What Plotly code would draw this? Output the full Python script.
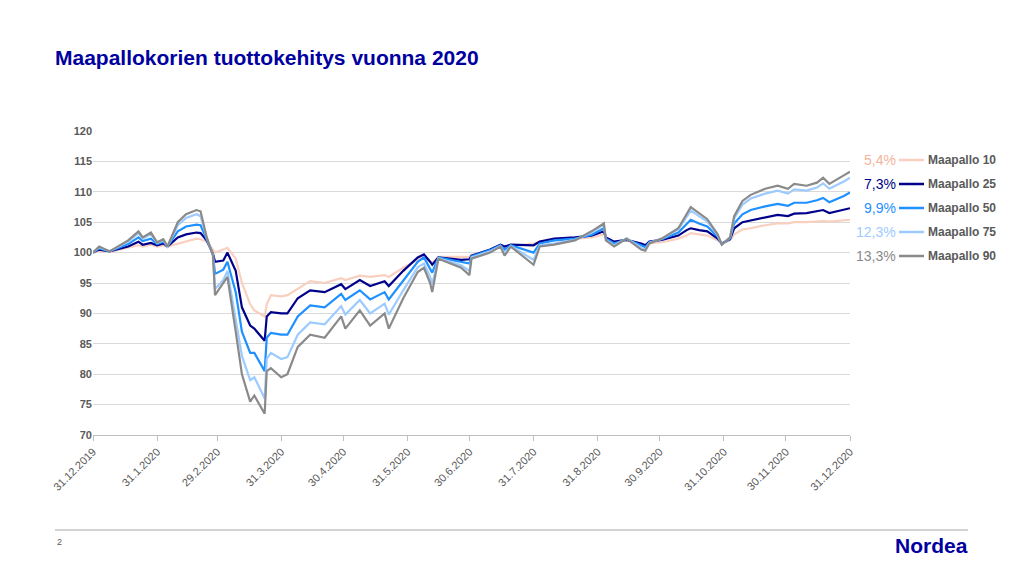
import plotly.graph_objects as go

dates = ["2019-12-31","2020-01-03","2020-01-08","2020-01-17","2020-01-22","2020-01-24","2020-01-28","2020-01-31",
"2020-02-03","2020-02-05","2020-02-10","2020-02-14","2020-02-19","2020-02-21","2020-02-24","2020-02-27","2020-02-28",
"2020-03-03","2020-03-05","2020-03-09","2020-03-12","2020-03-16","2020-03-18","2020-03-23","2020-03-24","2020-03-26",
"2020-03-31","2020-04-03","2020-04-08","2020-04-14","2020-04-21","2020-04-29","2020-05-01","2020-05-08","2020-05-13",
"2020-05-20","2020-05-22","2020-05-29","2020-06-05","2020-06-08","2020-06-11","2020-06-12","2020-06-15","2020-06-26",
"2020-06-30","2020-07-01","2020-07-10","2020-07-15","2020-07-17","2020-07-20","2020-07-31","2020-08-03","2020-08-10",
"2020-08-20","2020-08-28","2020-09-03","2020-09-04","2020-09-08","2020-09-14","2020-09-21","2020-09-23","2020-09-25",
"2020-10-01","2020-10-09","2020-10-13","2020-10-15","2020-10-19","2020-10-23","2020-10-28","2020-10-30","2020-11-03",
"2020-11-05","2020-11-09","2020-11-13","2020-11-20","2020-11-26","2020-12-01","2020-12-04","2020-12-10","2020-12-15",
"2020-12-18","2020-12-21","2020-12-28","2020-12-31"]

m10 = [100,100.3,100.1,100.8,101.2,101,101.3,101,101.2,101,101.5,101.9,102.3,102.2,101.8,100.5,100,
100.5,100.8,99,95,91.5,90.5,89.5,91.5,93,92.8,93,94,95.3,95,95.8,95.5,96.2,96,
96.3,96,97.5,98.8,99.2,98.5,98.3,99.3,99.3,99.3,99.6,100.3,101,100.8,101,101.5,101.8,102,
102.2,102.5,103,102.3,101.8,102,101.5,101.3,101.5,101.7,102.3,102.8,103.2,103,102.8,102,101.5,102,
103,103.8,104,104.5,104.8,104.8,105,105,105.1,105.2,105.1,105.3,105.4]
m25 = [100,100.5,100.2,101,101.8,101.3,101.6,101.2,101.5,101,102.5,103,103.3,103.2,102,99.8,98.5,
98.7,100,97,91,88,87.5,85.5,89.5,90.2,90,90,92.5,93.8,93.5,94.8,94,95.5,94.5,
95.3,94.5,97,99.2,99.7,98.5,98,99.2,98.8,98.9,99.5,100.5,101.3,101,101.3,101.2,101.8,102.3,
102.5,102.8,103.5,102.5,101.8,102.1,101.5,101.2,101.8,102.1,102.8,103.7,104,103.7,103.5,102.3,101.5,102.2,
104,105,105.3,105.8,106.2,106,106.4,106.5,106.8,107,106.5,107,107.3]
m50 = [100,100.7,100.2,101.4,102.5,101.9,102.3,101.4,101.8,101,103.5,104.3,104.6,104.5,102.2,99.7,96.5,
97.2,98.5,93.5,87,83.5,83.5,80.5,86,86.8,86.5,86.5,89.5,91.3,91,93.2,92.2,93.8,92.3,
93.5,92.3,95.5,98.5,99.2,97.5,96.7,99.2,98.5,98.2,99.4,100.4,101.2,100.5,101.2,100,101.5,102,
102.3,102.9,104,102.3,101.5,102.2,101.2,100.9,101.7,102.2,103.3,104.8,105.4,104.8,104.3,102.6,101.4,102.3,
104.8,106.3,107,107.6,108,107.7,108.2,108.2,108.6,109,108.3,109.3,109.9]
m75 = [100,100.9,100.2,101.8,103.2,102.3,103,101.6,102,101,104.5,105.7,106.3,106,102.4,99.6,94,
95.5,97,89,83,79,79.5,76,82.5,83.5,82.5,82.8,86.5,88.5,88.2,91.2,89.8,92.2,90,
91.6,89.8,93.8,97.6,98.2,96,94.8,99.1,97.9,97,99.2,100.2,101.1,99.8,101.1,98.8,101.2,101.5,
102.1,103.3,104.6,102.1,101.2,102.3,100.8,100.5,101.6,102.3,103.8,106,106.9,106,105.1,102.9,101.3,102.5,
105.6,107.9,108.9,109.7,110.2,109.7,110.4,110.2,110.7,111.4,110.5,111.7,112.3]
m90 = [100,101,100.2,102,103.5,102.5,103.3,101.7,102.2,101,105,106.3,107,106.8,102.5,99.5,93,
95,96,87,80,75.5,76.5,73.5,80.5,81,79.5,80,84.5,86.5,86,89.5,87.5,90.5,88,
90,87.5,92.5,96.8,97.5,95,93.5,99,97.5,96.3,99,100,101,99.5,101,98,101,101.3,
102,103.5,104.8,102,101,102.3,100.5,100.3,101.5,102.3,104,106.5,107.5,106.5,105.5,103,101.3,102.5,
106,108.5,109.5,110.5,111,110.5,111.3,111,111.5,112.3,111.3,112.7,113.3]

names = ["Maapallo 10","Maapallo 25","Maapallo 50","Maapallo 75","Maapallo 90"]
returns = ["5,4%","7,3%","9,9%","12,3%","13,3%"]
colors = ["#f9cfc0","#00008b","#1e90ff","#9dcbff","#8a8a8a"]
txtcolors = ["#f4b39a","#00008b","#1e90ff","#9dcbff","#8a8a8a"]
series = [m10,m25,m50,m75,m90]

tickvals = ["2019-12-31","2020-01-31","2020-02-29","2020-03-31","2020-04-30","2020-05-31","2020-06-30",
            "2020-07-31","2020-08-31","2020-09-30","2020-10-31","2020-11-30","2020-12-31"]
ticktext = ["31.12.2019","31.1.2020","29.2.2020","31.3.2020","30.4.2020","31.5.2020","30.6.2020",
            "31.7.2020","31.8.2020","30.9.2020","31.10.2020","30.11.2020","31.12.2020"]

fig = go.Figure()
for s, n, c in zip(series, names, colors):
    fig.add_trace(go.Scatter(x=dates, y=s, name=n, mode="lines", line=dict(color=c, width=2.2), showlegend=False))

OFF = 8  # page body margin
L, R, T, B = 93 - OFF, 850 - OFF, 131 - OFF, 435 - OFF
def px(x): return (x - OFF - L) / (R - L)
def py(y): return (B - (y - OFF)) / (B - T)

ann, shapes = [], []
rows = [160, 184, 208, 232, 256]
for i in range(5):
    yy = py(rows[i])
    ann.append(dict(x=px(898), y=yy, xref="paper", yref="paper", text=returns[i], showarrow=False,
                    xanchor="right", yanchor="middle", font=dict(size=14, color=txtcolors[i], family="Arial")))
    shapes.append(dict(type="line", xref="paper", yref="paper", x0=px(899), x1=px(924), y0=yy, y1=yy,
                       line=dict(color=colors[i], width=2.5)))
    ann.append(dict(x=px(926), y=yy, xref="paper", yref="paper", text="<b>"+names[i]+"</b>", showarrow=False,
                    xanchor="left", yanchor="middle", font=dict(size=12, color="#595959", family="Arial")))
shapes.append(dict(type="line", xref="paper", yref="paper", x0=px(55), x1=px(968), y0=py(530), y1=py(530),
                   line=dict(color="#a6a6a6", width=1)))
ann.append(dict(x=px(55), y=py(542), xref="paper", yref="paper", text="2", showarrow=False, xanchor="left",
                yanchor="middle", font=dict(size=9, color="#595959", family="Arial")))
ann.append(dict(x=px(970), y=py(545), xref="paper", yref="paper", text="<b>Nordea</b>", showarrow=False, xanchor="right",
                yanchor="middle", font=dict(size=21, color="#0000a0", family="Arial")))

fig.update_layout(
    width=1024, height=576, paper_bgcolor="white", plot_bgcolor="white",
    margin=dict(l=L, r=1024-R, t=T, b=576-B, autoexpand=False),
    title=dict(text="<b>Maapallokorien tuottokehitys vuonna 2020</b>", x=(55-OFF)/1024, y=1-(58-OFF)/576, xanchor="left",
               yanchor="middle", font=dict(size=21, color="#0000a0", family="Arial")),
    annotations=ann, shapes=shapes,
    xaxis=dict(range=["2019-12-31","2020-12-31"], tickvals=tickvals, ticktext=ticktext, tickangle=-45,
               showgrid=False, showline=True, linecolor="#bfbfbf", ticks="outside", tickcolor="#bfbfbf", ticklen=5,
               tickfont=dict(size=11, color="#595959", family="Arial Black, Arial"), zeroline=False),
    yaxis=dict(range=[70,120], dtick=5, showgrid=True, gridcolor="#d9d9d9", zeroline=False,
               tickfont=dict(size=11, color="#595959", family="Arial"), tickprefix="<b>", ticksuffix="</b>"),
)
fig.write_html("out.html")
